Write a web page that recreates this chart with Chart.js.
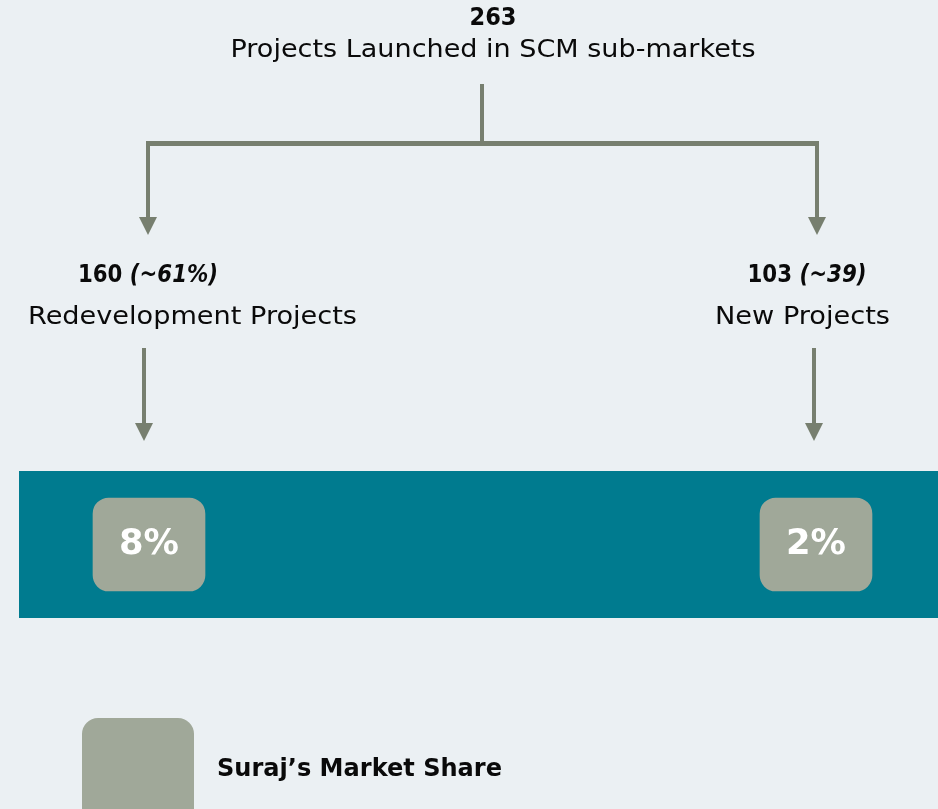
<!DOCTYPE html>
<html>
<head>
<meta charset="utf-8">
<script src="https://cdn.jsdelivr.net/npm/chart.js@4/dist/chart.umd.min.js"></script>
<style>
html,body{margin:0;padding:0;background:#EBF0F3;}
#wrap{width:938px;height:809px;position:relative;}
</style>
</head>
<body>
<div id="wrap"><canvas id="c" width="938" height="809"></canvas></div>
<script>
// ---- data ----
const totalProjects = 263;
const totalLabel = "Projects Launched in SCM sub-markets";
const categories = ["Redevelopment Projects", "New Projects"];
const projectCounts = [160, 103];
const projectShareLabels = ["(~61%)", "(~39)"];
const marketShare = [8, 2];
const legendLabel = "Suraj\u2019s Market Share";

// ---- styles ----
const LINE = "#777F6F";
const TEAL = "#007B8F";
const BOX = "#A0A899";
const TXT = "#0A0A0A";
const FONT = "'DejaVu Sans', 'Open Sans', sans-serif";

const BOX_TOP = 498, BOX_BOTTOM = 591;

// draw text stretched horizontally to a target width (to mimic a wide geometric face)
function drawFit(ctx, parts, cx, y, targetW, align) {
  let total = 0;
  const ws = parts.map(p => { ctx.font = p.font; const w = ctx.measureText(p.text).width; total += w; return w; });
  const sx = targetW / total;
  let x0 = align === 'left' ? cx : cx - targetW / 2;
  ctx.save();
  ctx.translate(x0, y);
  ctx.scale(sx, 1);
  ctx.textAlign = 'left';
  ctx.textBaseline = 'middle';
  let x = 0;
  parts.forEach((p, i) => { ctx.font = p.font; ctx.fillText(p.text, x, 0); x += ws[i]; });
  ctx.restore();
}

const treePlugin = {
  id: 'tree',
  beforeDatasetsDraw(chart) {
    const ctx = chart.ctx;
    const meta = chart.getDatasetMeta(0);
    const xL = meta.data[0].x, xR = meta.data[1].x;
    ctx.save();
    // teal band
    ctx.fillStyle = TEAL;
    ctx.fillRect(19, 471, 938 - 19, 147);

    // top texts
    ctx.fillStyle = TXT;
    drawFit(ctx, [{ text: String(totalProjects), font: "bold 24px " + FONT }], 493, 19, 47);
    drawFit(ctx, [{ text: totalLabel, font: "24px " + FONT }], 493, 51, 525);

    // tree lines
    ctx.strokeStyle = LINE;
    ctx.fillStyle = LINE;
    ctx.lineCap = "butt";
    const arrow = (x, y1, y2, w) => {
      ctx.lineWidth = 4;
      ctx.beginPath(); ctx.moveTo(x, y1); ctx.lineTo(x, y2 - 16); ctx.stroke();
      ctx.beginPath();
      ctx.moveTo(x - w / 2, y2 - 18); ctx.lineTo(x + w / 2, y2 - 18); ctx.lineTo(x, y2);
      ctx.closePath(); ctx.fill();
    };
    ctx.lineWidth = 4;
    ctx.beginPath(); ctx.moveTo(482, 84); ctx.lineTo(482, 143); ctx.stroke();
    ctx.lineWidth = 5;
    ctx.beginPath(); ctx.moveTo(xL - 3, 143.5); ctx.lineTo(xR + 3, 143.5); ctx.stroke();
    arrow(xL - 1, 141, 235, 18);
    arrow(xR + 1, 141, 235, 18);
    arrow(xL - 5, 348, 441, 18);
    arrow(xR - 2, 348, 441, 18);

    // category labels
    const headCenters = [148, 807];
    const headWidths = [140, 119];
    const nameCenters = [192.5, 802.5];
    const nameWidths = [329, 175];
    for (let i = 0; i < categories.length; i++) {
      ctx.fillStyle = TXT;
      drawFit(ctx, [
        { text: String(projectCounts[i]) + " ", font: "bold 24px " + FONT },
        { text: projectShareLabels[i], font: "italic bold 24px " + FONT }
      ], headCenters[i], 276, headWidths[i]);
      drawFit(ctx, [{ text: categories[i], font: "24px " + FONT }], nameCenters[i], 318, nameWidths[i]);
    }

    // legend
    ctx.fillStyle = BOX;
    ctx.beginPath();
    ctx.roundRect(82, 718, 112, 110, 16);
    ctx.fill();
    ctx.fillStyle = TXT;
    drawFit(ctx, [{ text: legendLabel, font: "bold 24px " + FONT }], 217, 770, 285, 'left');
    ctx.restore();
  },
  afterDatasetsDraw(chart) {
    const ctx = chart.ctx;
    const meta = chart.getDatasetMeta(0);
    ctx.save();
    ctx.fillStyle = "#FFFFFF";
    meta.data.forEach((bar, i) => {
      drawFit(ctx, [{ text: marketShare[i] + "%", font: "bold 36px " + FONT }], bar.x, (BOX_TOP + BOX_BOTTOM) / 2, 60);
    });
    ctx.restore();
  }
};

new Chart(document.getElementById('c'), {
  type: 'bar',
  data: {
    labels: categories,
    datasets: [{
      label: legendLabel,
      data: marketShare.map(() => [BOX_TOP, BOX_BOTTOM]),
      backgroundColor: BOX,
      borderRadius: 16,
      borderSkipped: false,
      barThickness: 112,
      clip: false
    }]
  },
  options: {
    responsive: false,
    animation: false,
    layout: { padding: { left: 149, right: 122, top: 0, bottom: 0 } },
    plugins: { legend: { display: false }, tooltip: { enabled: false } },
    scales: {
      x: { type: 'category', offset: false, display: false, grid: { display: false } },
      y: { type: 'linear', min: 0, max: 809, reverse: true, display: false }
    }
  },
  plugins: [treePlugin]
});
</script>
</body>
</html>
